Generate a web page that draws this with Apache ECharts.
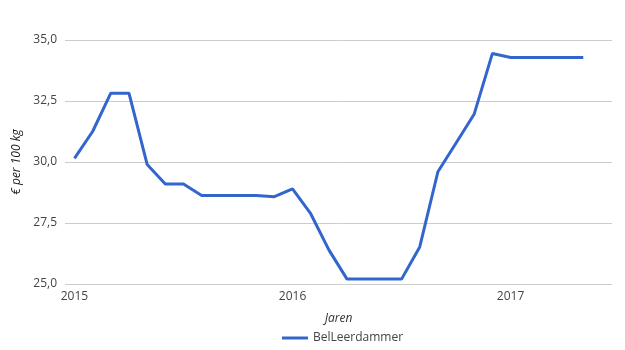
<!DOCTYPE html>
<html>
<head>
<meta charset="utf-8">
<script src="https://cdn.jsdelivr.net/npm/echarts@6/dist/echarts.min.js"></script>
<style>html,body{margin:0;padding:0;background:#fff}#c{width:625px;height:350px}</style>
</head>
<body>
<div id="c"></div>
<script>
const months = ['2015-01','2015-02','2015-03','2015-04','2015-05','2015-06','2015-07','2015-08','2015-09','2015-10','2015-11','2015-12',
                '2016-01','2016-02','2016-03','2016-04','2016-05','2016-06','2016-07','2016-08','2016-09','2016-10','2016-11','2016-12',
                '2017-01','2017-02','2017-03','2017-04','2017-05'];
const values = [30.15,31.25,32.82,32.82,29.9,29.1,29.1,28.63,28.63,28.63,28.63,28.58,
                28.9,27.88,26.4,25.2,25.2,25.2,25.2,26.52,29.6,30.78,31.97,34.45,
                34.28,34.28,34.28,34.28,34.28];
const yearTicks = [2015, 2016, 2017];
const seriesName = 'BelLeerdammer';

function monthIndex(s){ const [y,m] = s.split('-').map(Number); return (y-2015)*12 + (m-1); }
const data = months.map((m,i)=>[monthIndex(m), values[i]]);

const font = 'Open Sans';
const chart = echarts.init(document.getElementById('c'), null, {renderer:'canvas'});
chart.setOption({
  animation:false,
  textStyle:{fontFamily:font},
  grid:{left:65,right:13,top:40,bottom:66,containLabel:false},
  legend:{bottom:1,left:277,itemWidth:26,itemHeight:3,itemGap:10,icon:'rect',
    textStyle:{fontFamily:font,fontSize:12,color:'#444'},data:[seriesName]},
  xAxis:{type:'value',min:-0.52,max:29.58,name:'Jaren',nameLocation:'middle',nameGap:29,
    nameTextStyle:{fontFamily:font,fontStyle:'italic',fontSize:12,color:'#333'},
    axisLine:{show:false},axisTick:{show:false},splitLine:{show:false},
    axisLabel:{customValues:yearTicks.map(y=>(y-2015)*12),formatter:v=>String(2015+Math.round(v/12)),
      fontFamily:font,fontSize:12,color:'#444',margin:7}},
  yAxis:{type:'value',min:25,max:35,interval:2.5,name:'€ per 100 kg',nameLocation:'middle',nameGap:41,
    nameTextStyle:{fontFamily:font,fontStyle:'italic',fontSize:12,color:'#222'},
    axisLine:{show:false},axisTick:{show:false},
    splitLine:{lineStyle:{color:'#ccc',width:1}},
    axisLabel:{formatter:v=>v.toFixed(1).replace('.',','),fontFamily:font,fontSize:12,color:'#444',margin:8}},
  series:[{name:seriesName,type:'line',data:data,symbol:'none',lineStyle:{color:'#3366cc',width:3},itemStyle:{color:'#3366cc'}}]
});
</script>
</body>
</html>
